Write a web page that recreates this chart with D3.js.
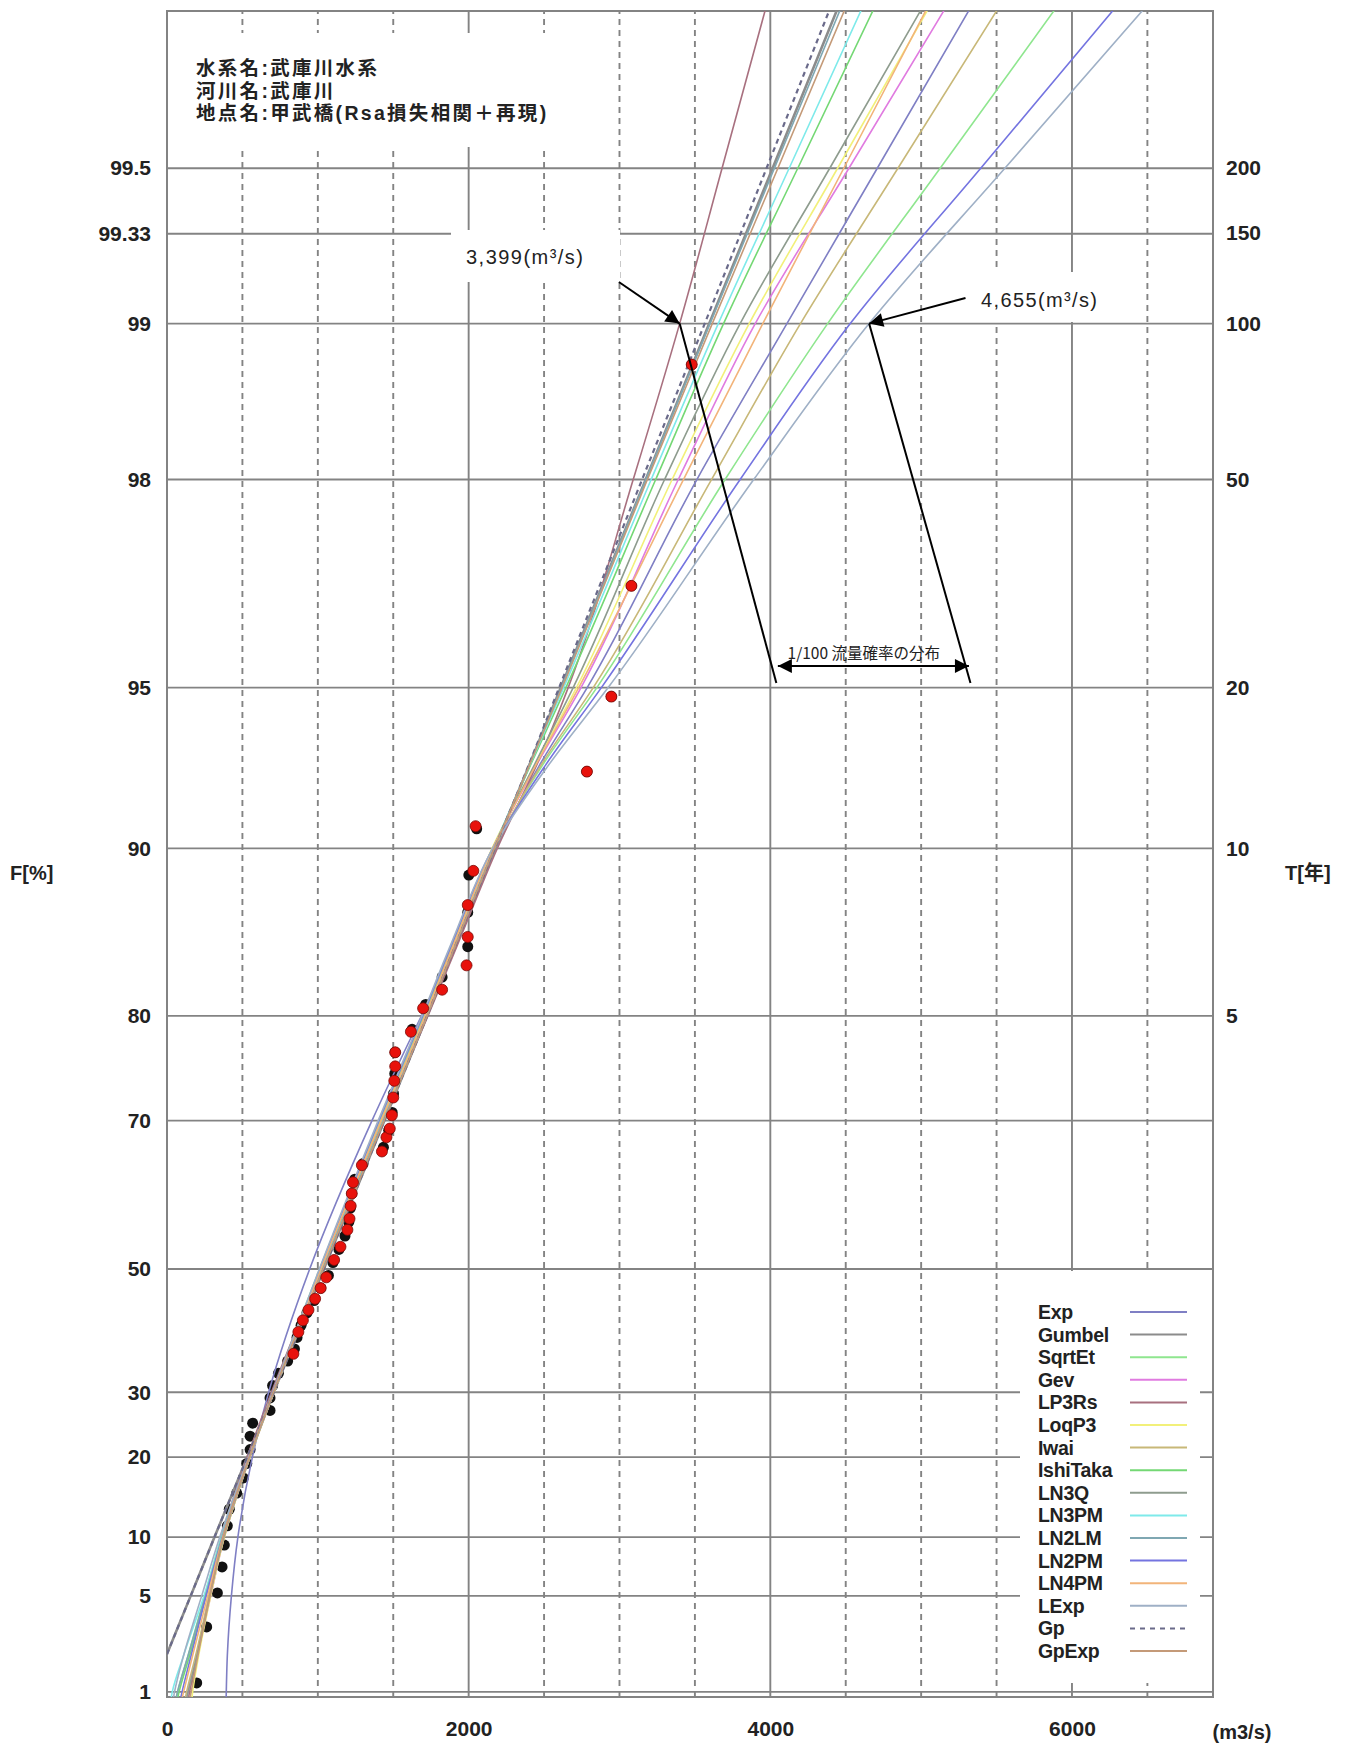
<!DOCTYPE html>
<html>
<head>
<meta charset="utf-8">
<script src="https://cdn.jsdelivr.net/npm/d3@7"></script>
<style>
  body { margin: 0; background: #fff; }
  svg text { fill: #222; }
</style>
</head>
<body>
<div id="chart"></div>
<script>
const width = 1356;
const height = 1746;
const margin = { top: 11, right: 143, bottom: 49, left: 167 };

// axis ticks
const fTicks = [1, 5, 10, 20, 30, 50, 70, 80, 90, 95, 98, 99, 99.33, 99.5];
const tTicks = [5, 10, 20, 50, 100, 150, 200];
const xMajor = [0, 2000, 4000, 6000];
const xMinor = [500, 1000, 1500, 2500, 3000, 3500, 4500, 5000, 5500, 6500];

// non-exceedance probability (%) where every fitted curve is read
const curveF = [0.5, 1, 2, 5, 10, 20, 30, 50, 70, 80, 85, 90, 93, 95, 98, 99, 99.5, 99.8];

// fitted curves, discharge (m3/s) at curveF
const qExp      = [389, 393, 400, 427, 470, 566, 674, 946, 1359, 1687, 1915, 2180, 2470, 2786, 3513, 4110, 4709, 5498];
const qGumbel   = [-187, -103, -4, 157, 315, 532, 707, 1040, 1441, 1724, 1915, 2177, 2402, 2611, 3174, 3595, 4015, 4568];
const qSqrtEt   = [30, 70, 140, 250, 360, 540, 700, 1012, 1412, 1702, 1890, 2165, 2490, 2850, 3700, 4380, 5126, 6108];
const qGev      = [100, 140, 200, 290, 380, 550, 710, 1030, 1430, 1720, 1905, 2160, 2450, 2745, 3390, 3900, 4521, 5340];
const qLP3Rs    = [110, 150, 200, 280, 362, 532, 692, 1022, 1432, 1730, 1925, 2190, 2450, 2660, 3091, 3399, 3680, 4051];
const qLoqP3    = [150, 170, 210, 290, 380, 550, 710, 1030, 1430, 1720, 1905, 2155, 2440, 2715, 3349, 3860, 4446, 5219];
const qIwai     = [90, 130, 190, 280, 380, 550, 710, 1020, 1420, 1710, 1895, 2170, 2480, 2826, 3610, 4200, 4846, 5698];
const qIshiTaka = [40, 80, 150, 258, 365, 545, 705, 1030, 1435, 1722, 1910, 2165, 2410, 2645, 3240, 3690, 4182, 4830];
const qLN3Q     = [100, 140, 200, 285, 375, 548, 708, 1028, 1432, 1722, 1905, 2160, 2435, 2693, 3299, 3800, 4394, 5177];
const qLN3PM    = [10, 35, 110, 245, 362, 545, 705, 1030, 1435, 1722, 1908, 2165, 2405, 2630, 3210, 3655, 4125, 4744];
const qLN2LM    = [30, 70, 140, 255, 365, 545, 705, 1032, 1437, 1722, 1910, 2168, 2400, 2615, 3175, 3600, 4027, 4591];
const qLN2PM    = [60, 100, 160, 260, 370, 545, 705, 1015, 1405, 1695, 1885, 2160, 2510, 2880, 3800, 4530, 5395, 6534];
const qLN4PM    = [60, 110, 170, 270, 370, 545, 705, 1020, 1420, 1712, 1900, 2160, 2445, 2730, 3424, 3950, 4487, 5194];
const qLExp     = [20, 50, 110, 230, 350, 540, 700, 1010, 1400, 1690, 1880, 2160, 2530, 2925, 3890, 4655, 5555, 6741];
const qGp       = [-187, -103, -4, 157, 315, 532, 707, 1040, 1441, 1724, 1913, 2172, 2398, 2600, 3150, 3565, 3975, 4515];
const qGpExp    = [120, 160, 205, 285, 372, 545, 705, 1035, 1438, 1724, 1912, 2170, 2403, 2620, 3185, 3615, 4050, 4623];

const curveNames  = ["Exp", "Gumbel", "SqrtEt", "Gev", "LP3Rs", "LoqP3", "Iwai", "IshiTaka",
                     "LN3Q", "LN3PM", "LN2LM", "LN2PM", "LN4PM", "LExp", "Gp", "GpExp"];
const curveValues = [qExp, qGumbel, qSqrtEt, qGev, qLP3Rs, qLoqP3, qIwai, qIshiTaka,
                     qLN3Q, qLN3PM, qLN2LM, qLN2PM, qLN4PM, qLExp, qGp, qGpExp];
const curveColors = ["#7f7fc4", "#8c8c8c", "#8fe68f", "#e07be0", "#a8707f", "#f2f07a", "#c8b878", "#74d874",
                     "#8e9c8e", "#7eeaea", "#7fa7b2", "#7474e0", "#f2b47a", "#9fb0c6", "#6a6a8a", "#c49a78"];

// plotted annual maxima (black) and reproduced flows (red)
const obsF = [1.2, 3.2, 5.2, 7.2, 9.2, 11.2, 13.1, 15.1, 17.1, 19.1, 21.1, 23.1, 25.1, 27.1, 29.1,
              31.1, 33.1, 35.1, 37.1, 39.0, 41.0, 43.0, 45.0, 47.0, 49.0, 51.0, 53.0, 55.0, 57.0, 59.0,
              61.0, 62.9, 64.9, 66.9, 68.9, 70.9, 72.9, 74.9, 76.9, 78.9, 80.9, 82.9, 84.9, 86.9, 88.8,
              90.8, 92.8, 94.8, 96.8, 98.8];
const obsQ = [197, 263, 334, 365, 380, 400, 413, 462, 506, 529, 551, 551, 568, 683, 683,
              700, 739, 800, 845, 862, 889, 928, 975, 1019, 1070, 1100, 1140, 1180, 1205, 1216,
              1225, 1245, 1300, 1435, 1470, 1493, 1502, 1510, 1513, 1625, 1715, 1824, 1994, 1994, 2001,
              2053, 2784, 2946, 3079, 3479];
const simF = [36.3, 39.9, 41.8, 43.5, 45.3, 47.0, 48.7, 51.4, 53.4, 55.9, 57.5, 59.3, 61.0, 62.5, 64.7,
              66.4, 68.1, 69.1, 70.6, 72.5, 74.2, 75.6, 76.9, 78.7, 80.6, 82.0, 83.7, 85.5, 87.3, 89.0,
              90.9, 92.8, 94.8, 96.8, 98.8];
const simQ = [838, 871, 901, 938, 982, 1019, 1056, 1108, 1150, 1196, 1210, 1218, 1225, 1233, 1292,
              1425, 1455, 1477, 1491, 1500, 1507, 1513, 1513, 1617, 1698, 1824, 1986, 1994, 1994, 2031,
              2046, 2784, 2946, 3079, 3479];

const titleLines = ["水系名:武庫川水系", "河川名:武庫川", "地点名:甲武橋(Rsa損失相関＋再現)"];

// ---------------------------------------------------------------
const gumbel = f => -Math.log(-Math.log(f / 100));

const svg = d3.select("#chart").append("svg")
  .attr("width", width)
  .attr("height", height)
  .style("font-family", "'Liberation Sans', Arial, sans-serif");

const x = d3.scaleLinear()
  .domain([0, 6935])
  .range([margin.left, width - margin.right]);

const y = d3.scaleLinear()
  .domain([-1.55, 6.0])
  .range([height - margin.bottom, margin.top]);

const gridColor = "#838383";

// horizontal grid
svg.append("g")
  .selectAll("line")
  .data(fTicks)
  .join("line")
  .attr("x1", x.range()[0]).attr("x2", x.range()[1])
  .attr("y1", d => y(gumbel(d))).attr("y2", d => y(gumbel(d)))
  .attr("stroke", gridColor).attr("stroke-width", 1.9);

// vertical grid
svg.append("g")
  .selectAll("line")
  .data(xMajor.slice(1))
  .join("line")
  .attr("x1", d => x(d)).attr("x2", d => x(d))
  .attr("y1", y.range()[0]).attr("y2", y.range()[1])
  .attr("stroke", gridColor).attr("stroke-width", 1.9);

svg.append("g")
  .selectAll("line")
  .data(xMinor)
  .join("line")
  .attr("x1", d => x(d)).attr("x2", d => x(d))
  .attr("y1", y.range()[0]).attr("y2", y.range()[1])
  .attr("stroke", gridColor).attr("stroke-width", 1.9)
  .attr("stroke-dasharray", "6,5");

// white boxes that hide the grid
const boxes = [
  { x0: 185, x1: 560, y0: 33, y1: 147 },
  { x0: 451, x1: 620, y0: 230, y1: 282 },
  { x0: 965, x1: 1132, y0: 272, y1: 322 },
  { x0: 1020, x1: 1200, y0: 1271, y1: 1683 }
];
svg.append("g")
  .selectAll("rect")
  .data(boxes)
  .join("rect")
  .attr("x", d => d.x0).attr("y", d => d.y0)
  .attr("width", d => d.x1 - d.x0).attr("height", d => d.y1 - d.y0)
  .attr("fill", "#fff");

// border
svg.append("rect")
  .attr("x", x.range()[0]).attr("y", y.range()[1])
  .attr("width", x.range()[1] - x.range()[0])
  .attr("height", y.range()[0] - y.range()[1])
  .attr("fill", "none").attr("stroke", gridColor).attr("stroke-width", 2);

// clip
svg.append("clipPath").attr("id", "plot-clip")
  .append("rect")
  .attr("x", x.range()[0]).attr("y", y.range()[1])
  .attr("width", x.range()[1] - x.range()[0])
  .attr("height", y.range()[0] - y.range()[1]);

const plot = svg.append("g").attr("clip-path", "url(#plot-clip)");

// observed dots (under the curves)
plot.append("g")
  .selectAll("circle")
  .data(obsF.map((f, i) => ({ f, q: obsQ[i] })))
  .join("circle")
  .attr("cx", d => x(d.q))
  .attr("cy", d => y(gumbel(d.f)))
  .attr("r", 5.5)
  .attr("fill", "#111");

// curves
const line = d3.line()
  .x(d => x(d.q))
  .y(d => y(gumbel(d.f)))
  .curve(d3.curveMonotoneY);

const curves = curveNames.map((name, i) => ({
  name,
  color: curveColors[i],
  points: curveF.map((f, j) => ({ f, q: curveValues[i][j] })).reverse()
}));

plot.append("g")
  .selectAll("path")
  .data(curves)
  .join("path")
  .attr("d", d => line(d.points))
  .attr("fill", "none")
  .attr("stroke", d => d.color)
  .attr("stroke-width", d => d.name === "Gumbel" ? 2.6 : d.name === "Gp" ? 2.2 : 1.6)
  .attr("stroke-dasharray", d => d.name === "Gp" ? "5,4" : null);

// reproduced dots
plot.append("g")
  .selectAll("circle")
  .data(simF.map((f, i) => ({ f, q: simQ[i] })))
  .join("circle")
  .attr("cx", d => x(d.q))
  .attr("cy", d => y(gumbel(d.f)))
  .attr("r", 5.5)
  .attr("fill", "#e8120c")
  .attr("stroke", "#7a0a06")
  .attr("stroke-width", 0.8);

// left axis (F)
const leftAxis = d3.axisLeft(y)
  .tickValues(fTicks.map(gumbel))
  .tickFormat((d, i) => fTicks[i])
  .tickSize(0)
  .tickPadding(16);

const axisFont = g => g.selectAll("text")
  .style("font-size", "21px").style("font-weight", "bold")
  .style("font-family", "'Liberation Sans', Arial, sans-serif")
  .attr("fill", "#222");

svg.append("g")
  .attr("transform", `translate(${x.range()[0]},0)`)
  .call(leftAxis)
  .call(g => g.select(".domain").remove())
  .call(axisFont);

// right axis (T)
const rightAxis = d3.axisRight(y)
  .tickValues(tTicks.map(t => gumbel(100 * (1 - 1 / t))))
  .tickFormat((d, i) => tTicks[i])
  .tickSize(0)
  .tickPadding(13);

svg.append("g")
  .attr("transform", `translate(${x.range()[1]},0)`)
  .call(rightAxis)
  .call(g => g.select(".domain").remove())
  .call(axisFont);

// bottom axis
const bottomAxis = d3.axisBottom(x)
  .tickValues(xMajor)
  .tickFormat(d3.format("d"))
  .tickSize(0)
  .tickPadding(24);

svg.append("g")
  .attr("transform", `translate(0,${y.range()[0]})`)
  .call(bottomAxis)
  .call(g => g.select(".domain").remove())
  .call(axisFont);

// axis titles
svg.append("text").attr("x", 10).attr("y", 880)
  .style("font-size", "20px").style("font-weight", "bold")
  .text("F[%]");
svg.append("text").attr("x", 1285).attr("y", 880)
  .style("font-size", "20px").style("font-weight", "bold")
  .style("font-family", "'Liberation Sans', 'Noto Sans CJK JP', sans-serif")
  .text("T[年]");
svg.append("text").attr("x", 1242).attr("y", 1739)
  .attr("text-anchor", "middle")
  .style("font-size", "20px").style("font-weight", "bold")
  .text("(m3/s)");

// title block
svg.append("g")
  .selectAll("text")
  .data(titleLines)
  .join("text")
  .attr("x", 196)
  .attr("y", (d, i) => 75 + i * 22.5)
  .style("font-family", "'Liberation Sans', 'Noto Sans CJK JP', sans-serif")
  .style("font-size", "19.5px").style("font-weight", "bold")
  .style("letter-spacing", "2.3px")
  .text(d => d);

// legend
const legend = svg.append("g")
  .selectAll("g")
  .data(curves)
  .join("g")
  .attr("transform", (d, i) => `translate(1038,${1312 + i * 22.6})`);

legend.append("text")
  .attr("y", 7)
  .style("font-size", "19.5px").style("font-weight", "bold")
  .style("letter-spacing", "-0.3px")
  .text(d => d.name);

legend.append("line")
  .attr("x1", 92).attr("x2", 149)
  .attr("stroke", d => d.color)
  .attr("stroke-width", 2)
  .attr("stroke-dasharray", d => d.name === "Gp" ? "5,5" : null);

// annotations
const q100low = 3399, q100high = 4655;
svg.append("defs").append("marker")
  .attr("id", "head")
  .attr("viewBox", "0 0 10 10")
  .attr("refX", 10).attr("refY", 5)
  .attr("markerWidth", 9).attr("markerHeight", 7)
  .attr("markerUnits", "strokeWidth")
  .attr("orient", "auto-start-reverse")
  .append("path").attr("d", "M0,0L10,5L0,10z").attr("fill", "#000");

const ann = svg.append("g").attr("stroke", "#000").attr("stroke-width", 2).attr("fill", "none");
const y99 = y(gumbel(99));
const yFoot = y(gumbel(95.1));
const yBar = y(gumbel(95.45));

ann.append("line")
  .attr("x1", x(q100low)).attr("y1", y99)
  .attr("x2", x(4040)).attr("y2", yFoot);
ann.append("line")
  .attr("x1", x(q100high)).attr("y1", y99)
  .attr("x2", x(5327)).attr("y2", yFoot);
ann.append("line")
  .attr("x1", x(2996)).attr("y1", 282)
  .attr("x2", x(q100low)).attr("y2", y99)
  .attr("marker-end", "url(#head)");
ann.append("line")
  .attr("x1", x(5294)).attr("y1", 298)
  .attr("x2", x(q100high)).attr("y2", y99)
  .attr("marker-end", "url(#head)");
ann.append("line")
  .attr("x1", x(4050)).attr("y1", yBar)
  .attr("x2", x(5317)).attr("y2", yBar)
  .attr("marker-start", "url(#head)")
  .attr("marker-end", "url(#head)");

const annText = svg.append("g")
  .style("font-family", "'Liberation Sans Narrow', 'Liberation Sans', sans-serif")
  .style("font-size", "20px");

annText.append("text")
  .attr("x", 466).attr("y", 264)
  .attr("textLength", 117).attr("lengthAdjust", "spacing")
  .text("3,399(m³/s)");
annText.append("text")
  .attr("x", 981).attr("y", 307)
  .attr("textLength", 116).attr("lengthAdjust", "spacing")
  .text("4,655(m³/s)");

svg.append("text")
  .attr("x", x(4620)).attr("y", 659)
  .attr("text-anchor", "middle")
  .style("font-family", "'Noto Sans CJK JP', sans-serif")
  .style("font-size", "15.5px")
  .text("1/100 流量確率の分布");
</script>
</body>
</html>
